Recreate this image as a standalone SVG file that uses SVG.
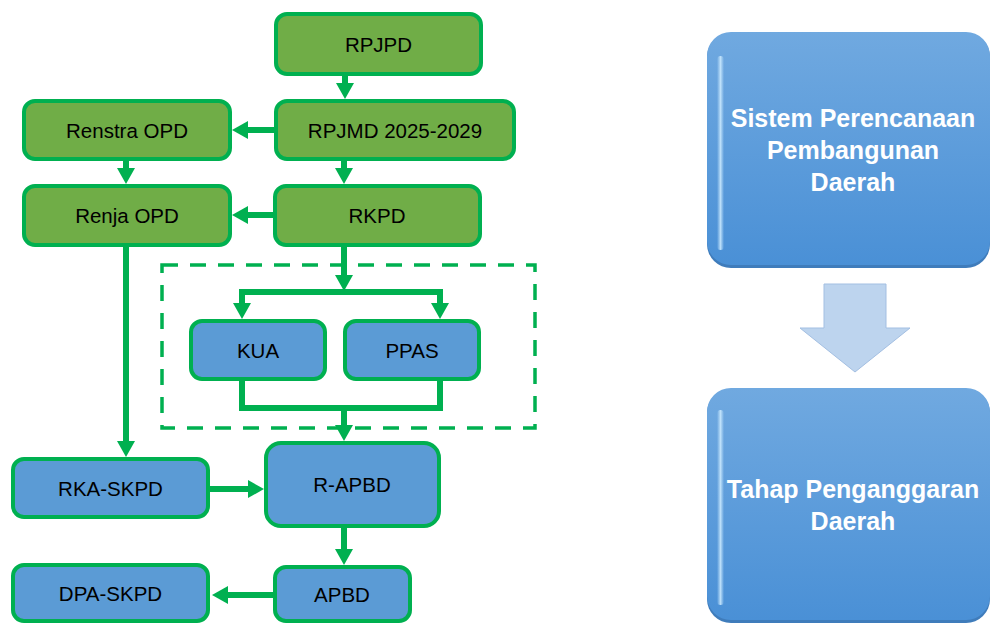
<svg xmlns="http://www.w3.org/2000/svg" width="991" height="625" viewBox="0 0 991 625">
  <style>
    .g rect { fill: #70AD47; stroke: #00B050; stroke-width: 4; }
    .b rect { fill: #5B9BD5; stroke: #00B050; stroke-width: 4; }
    .lbl { font-family: "Liberation Sans", Arial, sans-serif; font-size: 20.5px; fill: #000; text-anchor: middle; dominant-baseline: central; }
    .conn path { fill: none; stroke: #00B050; stroke-width: 6; }
    .big text { font-family: "Liberation Sans", Arial, sans-serif; font-size: 25px; font-weight: bold; fill: #fff; text-anchor: middle; }
  </style>
  <defs>
    <marker id="arr" markerUnits="userSpaceOnUse" markerWidth="16" markerHeight="18" viewBox="0 0 16 18" refX="6" refY="9" orient="auto">
      <path d="M0,0 L16,9 L0,18 z" fill="#00B050"/>
    </marker>
    <linearGradient id="panel" x1="0" y1="0" x2="0" y2="1">
      <stop offset="0" stop-color="#70A9E0"/>
      <stop offset="1" stop-color="#4A90D6"/>
    </linearGradient>
    <linearGradient id="shine" x1="0" y1="0" x2="1" y2="0">
      <stop offset="0" stop-color="#CDEBFF" stop-opacity="0"/>
      <stop offset="0.5" stop-color="#CDEBFF" stop-opacity="0.85"/>
      <stop offset="1" stop-color="#CDEBFF" stop-opacity="0"/>
    </linearGradient>
  </defs>

  <!-- connectors -->
  <g class="conn" id="connectors">
    <path d="M345,76 V89" marker-end="url(#arr)"/>
    <path d="M274,130 H242" marker-end="url(#arr)"/>
    <path d="M126,161 V174" marker-end="url(#arr)"/>
    <path d="M344,161 V174" marker-end="url(#arr)"/>
    <path d="M273,215 H242" marker-end="url(#arr)"/>
    <path d="M344,247 V281" marker-end="url(#arr)"/>
    <path d="M344,292 H242 V309" marker-end="url(#arr)"/>
    <path d="M344,292 H440 V309" marker-end="url(#arr)"/>
    <path d="M242,381 V408 H440 V381"/>
    <path d="M344,408 V431" marker-end="url(#arr)"/>
    <path d="M126,247 V447" marker-end="url(#arr)"/>
    <path d="M210,489 H254" marker-end="url(#arr)"/>
    <path d="M344,528 V555" marker-end="url(#arr)"/>
    <path d="M273,595 H222" marker-end="url(#arr)"/>
  </g>

  <!-- dashed budget-policy frame -->
  <rect id="frame" x="162" y="265" width="373" height="163" fill="none" stroke="#00B050" stroke-width="3.5" stroke-dasharray="16 12"/>

  <!-- planning nodes -->
  <g id="rpjpd" class="g"><rect x="276" y="14" width="205" height="60" rx="11"/><text class="lbl" x="378.5" y="44">RPJPD</text></g>
  <g id="rpjmd" class="g"><rect x="276" y="101" width="238" height="58" rx="11"/><text class="lbl" x="395" y="130">RPJMD 2025-2029</text></g>
  <g id="renstra" class="g"><rect x="24" y="101" width="206" height="58" rx="11"/><text class="lbl" x="127" y="130">Renstra OPD</text></g>
  <g id="renja" class="g"><rect x="24" y="186" width="206" height="59" rx="11"/><text class="lbl" x="127" y="215">Renja OPD</text></g>
  <g id="rkpd" class="g"><rect x="275" y="186" width="205" height="59" rx="11"/><text class="lbl" x="377" y="215">RKPD</text></g>

  <!-- budgeting nodes -->
  <g id="kua" class="b"><rect x="191" y="321" width="134" height="58" rx="11"/><text class="lbl" x="258" y="350">KUA</text></g>
  <g id="ppas" class="b"><rect x="345" y="321" width="134" height="58" rx="11"/><text class="lbl" x="412" y="350">PPAS</text></g>
  <g id="rapbd" class="b"><rect x="266" y="443" width="173" height="83" rx="15"/><text class="lbl" x="352" y="484">R-APBD</text></g>
  <g id="rkaskpd" class="b"><rect x="13" y="459" width="195" height="58" rx="11"/><text class="lbl" x="110.5" y="488">RKA-SKPD</text></g>
  <g id="apbd" class="b"><rect x="275" y="567" width="135" height="54" rx="11"/><text class="lbl" x="342" y="594">APBD</text></g>
  <g id="dpaskpd" class="b"><rect x="13" y="565" width="195" height="56" rx="11"/><text class="lbl" x="110.5" y="593">DPA-SKPD</text></g>

  <!-- stage panels -->
  <g id="stage-plan" class="big">
    <rect x="707" y="33" width="283" height="235" rx="24" fill="#3F7CBB"/>
    <rect x="707" y="32" width="283" height="233" rx="24" fill="url(#panel)"/>
    <rect x="717" y="56" width="7" height="194" rx="3.5" fill="url(#shine)"/>
    <text x="853" y="127">Sistem Perencanaan</text>
    <text x="853" y="159">Pembangunan</text>
    <text x="853" y="191">Daerah</text>
  </g>

  <g id="stage-arrow">
    <path d="M824,284 H886 V328 H910 L855,372 L800,328 H824 Z" fill="#BDD4EE" stroke="#A3BFE2" stroke-width="1"/>
  </g>

  <g id="stage-budget" class="big">
    <rect x="707" y="389" width="283" height="234" rx="24" fill="#3F7CBB"/>
    <rect x="707" y="388" width="283" height="232" rx="24" fill="url(#panel)"/>
    <rect x="717" y="410" width="7" height="195" rx="3.5" fill="url(#shine)"/>
    <text x="853" y="498">Tahap Penganggaran</text>
    <text x="853" y="530">Daerah</text>
  </g>
</svg>
